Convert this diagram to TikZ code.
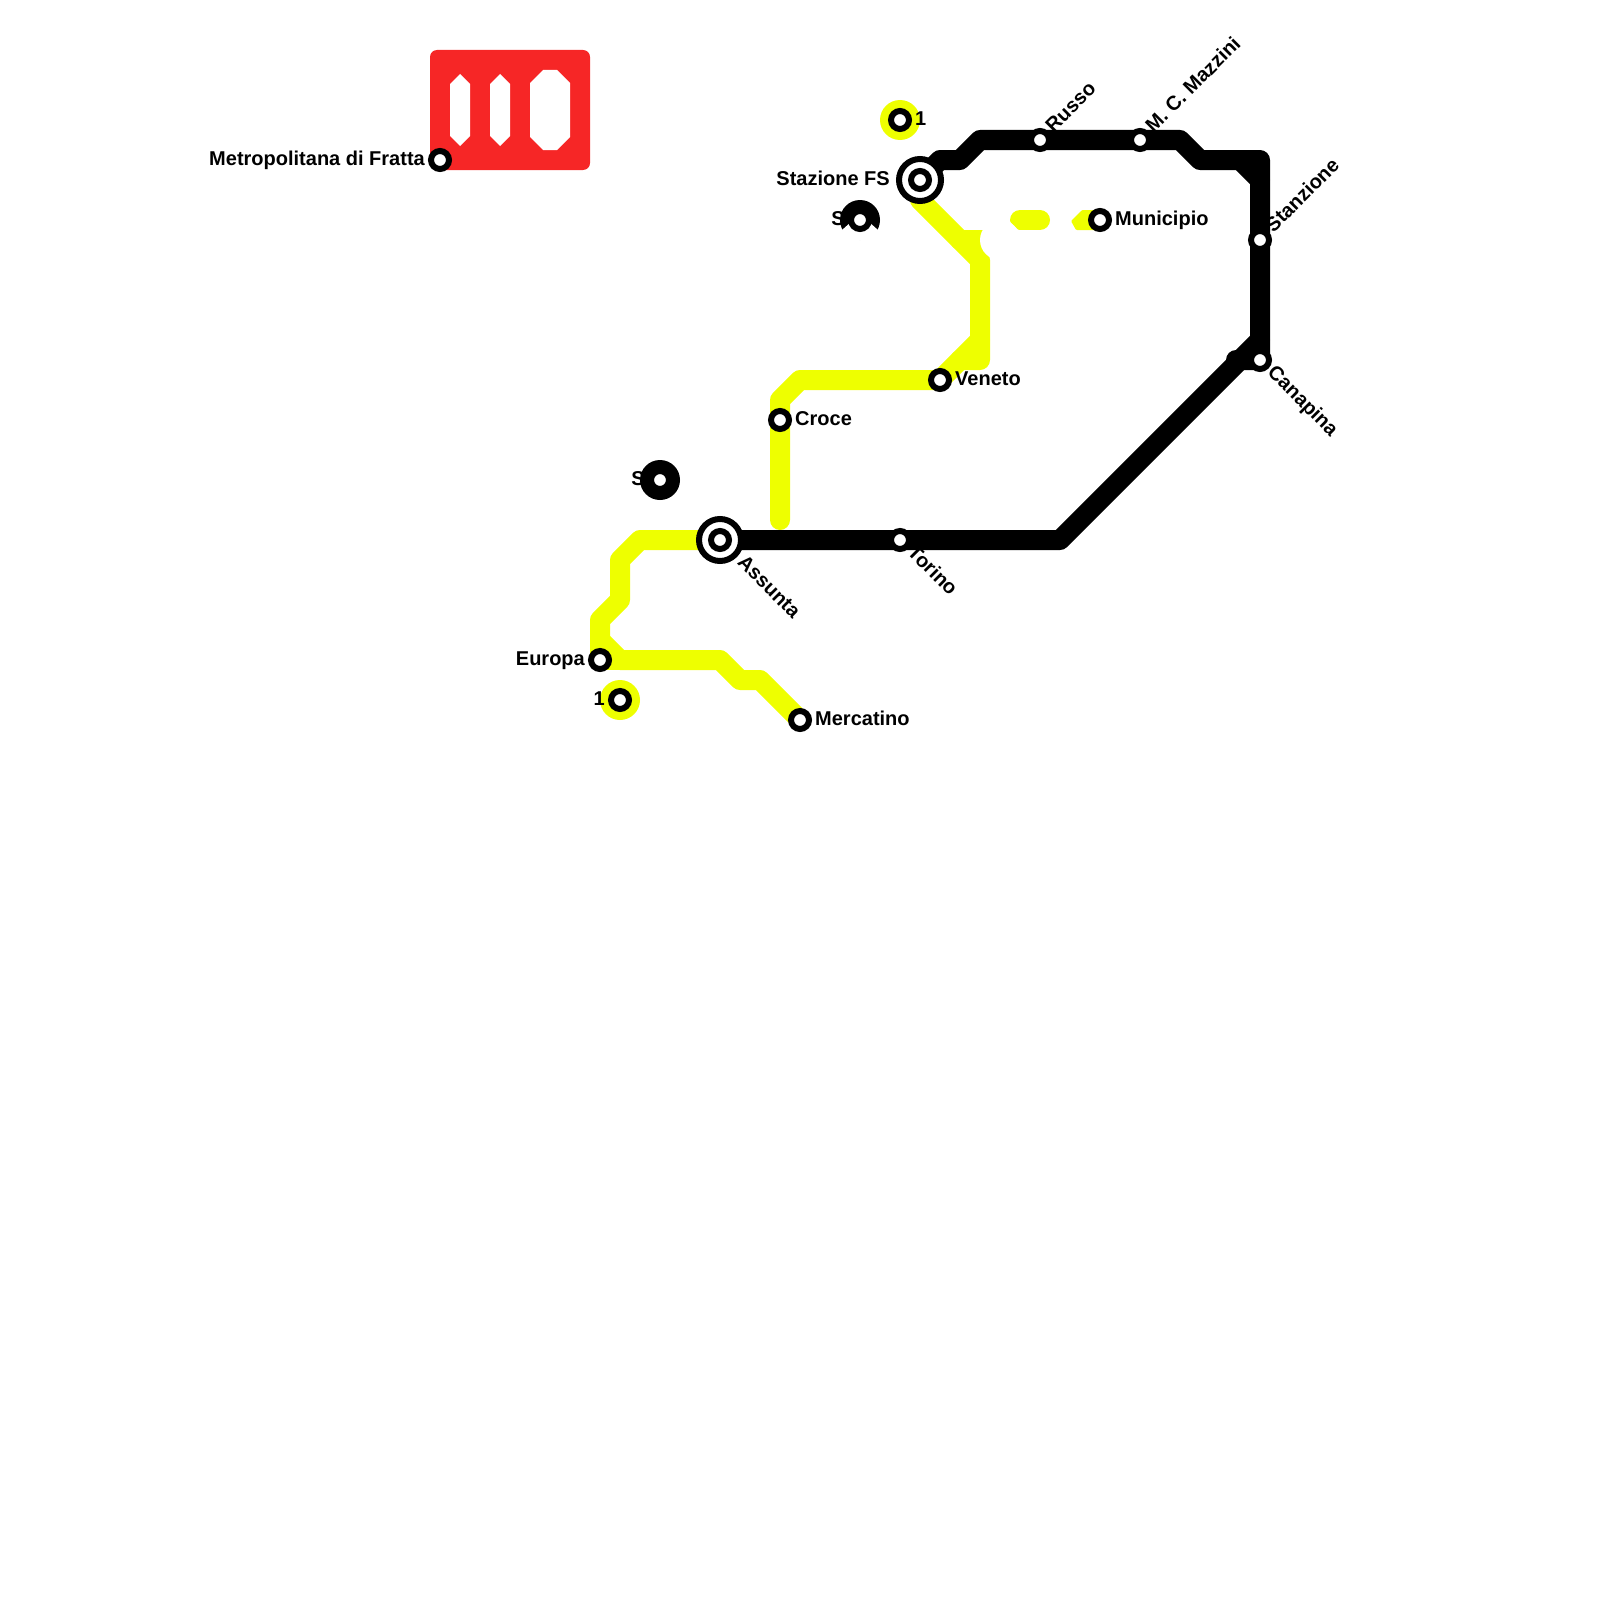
\documentclass[tikz,border=0pt]{standalone}
\usepackage{fontspec}
\setmainfont{Liberation Sans}
\definecolor{LineYellow}{RGB}{238,255,0}
\definecolor{LogoRed}{RGB}{246,38,38}
\usetikzlibrary{positioning, calc}

\tikzset{
  yellowline/.style={draw=LineYellow, line width=20pt, line cap=round, line join=round},
  blackline/.style={draw=black, line width=20pt, line cap=round, line join=round},
  stop/.style={circle, draw=black, fill=white, line width=6pt, minimum size=18pt, inner sep=0pt, outer sep=0pt},
  hubring/.style={stop, minimum size=42pt},
  stoplabel/.style={font=\bfseries\fontsize{20}{22}\selectfont, inner sep=0pt, text=black, text height=14pt, text depth=4pt},
}

\begin{document}
\begin{tikzpicture}[x=1pt, y=-1pt]
  \useasboundingbox (0,0) rectangle (1600,1600);

  % logo
  \fill[LogoRed, rounded corners=7pt] (430,50) rectangle (590,170);
  \fill[white] (460,74) -- (470,84) -- (470,136) -- (460,146) -- (450,136) -- (450,84) -- cycle;
  \fill[white] (500,74) -- (510,84) -- (510,136) -- (500,146) -- (490,136) -- (490,84) -- cycle;
  \fill[white] (543,70) -- (557,70) -- (570,83) -- (570,137) -- (557,150) -- (543,150) -- (530,137) -- (530,83) -- cycle;

  % stops
  \coordinate (fratta) at (440,160);
  \coordinate (fs) at (920,180);
  \coordinate (assunta) at (720,540);
  \coordinate (veneto) at (940,380);
  \coordinate (croce) at (780,420);
  \coordinate (europa) at (600,660);
  \coordinate (mercatino) at (800,720);
  \coordinate (municipio) at (1100,220);
  \coordinate (canapina) at (1260,360);

  % yellow line
  \draw[yellowline] (fs) -- (920,200) -- (980,260) -- (980,360) -- (960,360);
  \draw[yellowline] (980,340) -- (veneto) -- (800,380) -- (780,400) -- (780,520);
  \draw[yellowline] (960,240) -- (990,240);
  \draw[yellowline] (1020,220) -- (1040,220);
  \fill[LineYellow, rounded corners=1pt] (municipio) -- (1100,210) -- (1082,210) -- (1071,221) -- (1076,230) -- (1100,230) -- cycle;
  \draw[yellowline] (assunta) -- (640,540) -- (620,560) -- (620,600) -- (600,620) -- (europa);
  \draw[yellowline] (600,640) -- (620,660) -- (720,660) -- (740,680) -- (760,680) -- (mercatino);
  \draw[yellowline] (europa) -- (620,660);
  \fill[white] (1000,240) circle (20);
  \fill[white] (1008,220) -- (1008,232) -- (1020,232) -- cycle;

  % black line
  \draw[blackline] (fs) -- (940,160) -- (960,160) -- (980,140) -- (1180,140) -- (1200,160) -- (1260,160) -- (canapina) -- (1236,360);
  \draw[blackline] (1240,160) -- (1260,180);
  \draw[blackline] (1260,340) -- (1240,360) -- (1060,540) -- (assunta);

  % terminus discs
  \fill[LineYellow] (900,120) circle (20);
  \fill[LineYellow] (620,700) circle (20);
  \fill[black] (660,480) circle (20);
  \fill[black] (860,220) circle (20);
  \fill[white] (842,240) -- (842,230) -- (851,222) -- (860,231) -- (869,222) -- (878,230) -- (878,240) -- cycle;

  % stations
  \node[stop] (fratta stop) at (fratta) {};
  \node[stop] (uno nord) at (900,120) {};
  \node[stop] (esse nord) at (860,220) {};
  \node[stop] (municipio stop) at (municipio) {};
  \node[stop] (veneto stop) at (veneto) {};
  \node[stop] (croce stop) at (croce) {};
  \node[stop] (esse sud) at (660,480) {};
  \node[stop] (europa stop) at (europa) {};
  \node[stop] (uno sud) at (620,700) {};
  \node[stop] (mercatino stop) at (mercatino) {};
  \node[stop] (russo) at (1040,140) {};
  \node[stop] (mazzini) at (1140,140) {};
  \node[stop] (stanzione) at (1260,240) {};
  \node[stop] (canapina stop) at (canapina) {};
  \node[stop] (torino) at (900,540) {};

  \node[hubring] (fs ring) at (fs) {};
  \node[stop] (fs stop) at (fs) {};
  \node[hubring] (assunta ring) at (assunta) {};
  \node[stop] (assunta stop) at (assunta) {};

  % labels
  \node[stoplabel, left=15pt of fratta stop.center] (fratta text) {Metropolitana di Fratta};
  \node[stoplabel, left=30pt of fs stop.center] (fs text) {Stazione FS};
  \node[stoplabel, right=15pt of uno nord.center] (uno nord text) {1};
  \node[stoplabel, left=15pt of esse nord.center] (esse nord text) {S};
  \node[stoplabel, right=15pt of municipio stop.center] (municipio text) {Municipio};
  \node[stoplabel, right=15pt of veneto stop.center] (veneto text) {Veneto};
  \node[stoplabel, right=15pt of croce stop.center] (croce text) {Croce};
  \node[stoplabel, left=15pt of esse sud.center] (esse sud text) {S};
  \node[stoplabel, left=15pt of europa stop.center] (europa text) {Europa};
  \node[stoplabel, left=15pt of uno sud.center] (uno sud text) {1};
  \node[stoplabel, right=15pt of mercatino stop.center] (mercatino text) {Mercatino};
  \node[stoplabel, rotate=45, anchor=west] (russo text) at (1050,130) {Russo};
  \node[stoplabel, rotate=45, anchor=west] (mazzini text) at (1150,130) {M. C. Mazzini};
  \node[stoplabel, rotate=45, anchor=west] (stanzione text) at (1270,230) {Stanzione};
  \node[stoplabel, rotate=-45, anchor=west] (canapina text) at (1270,370) {Canapina};
  \node[stoplabel, rotate=-45, anchor=west] (torino text) at (910,550) {Torino};
  \node[stoplabel, rotate=-45, anchor=west] (assunta text) at (740,560) {Assunta};
\end{tikzpicture}
\end{document}
